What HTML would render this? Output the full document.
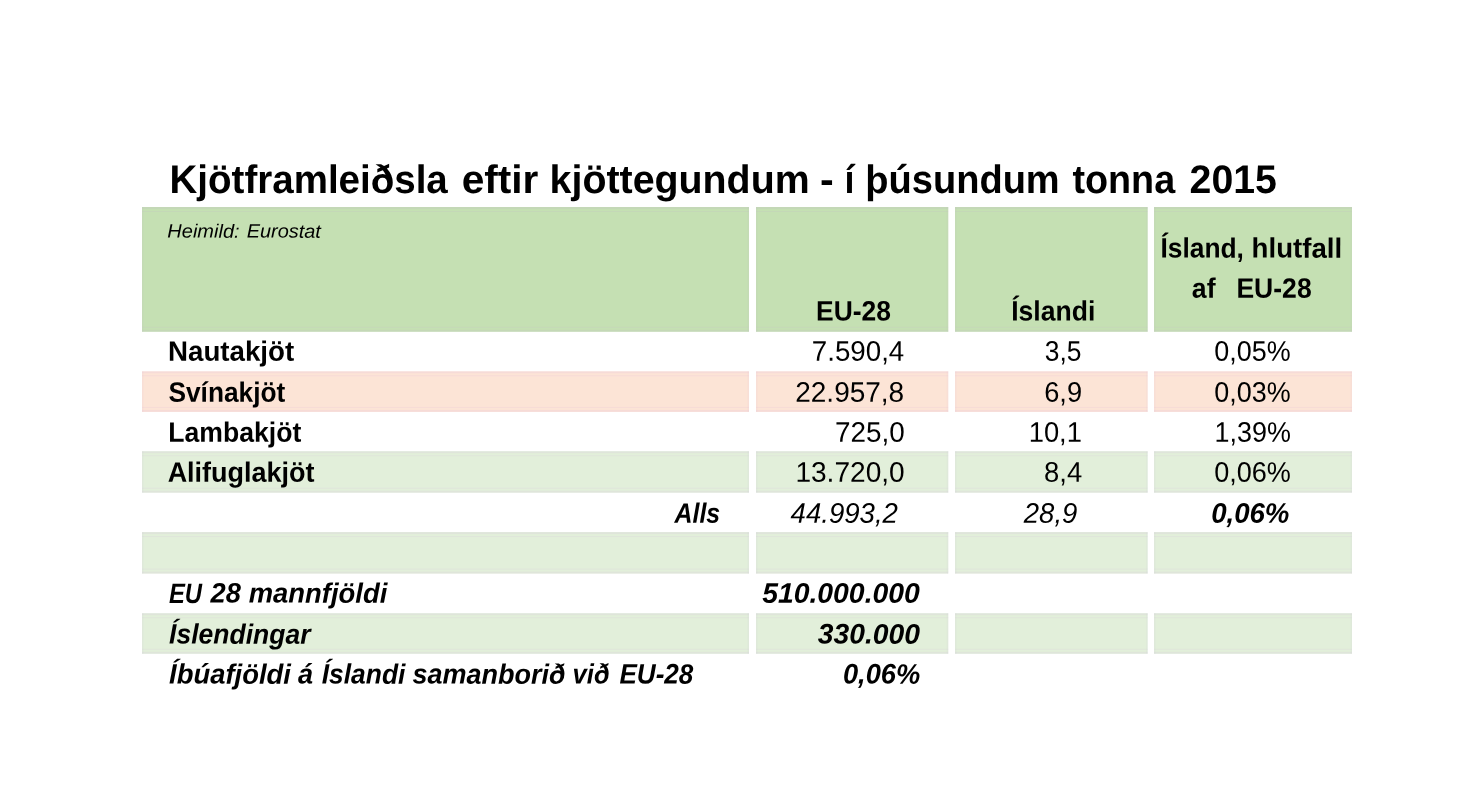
<!DOCTYPE html>
<html lang="is">
<head>
<meta charset="utf-8">
<title>Kjötframleiðsla eftir kjöttegundum</title>
<style>
html,body{margin:0;padding:0;background:#fff;}
body{width:1472px;height:803px;overflow:hidden;font-family:"Liberation Sans",sans-serif;}
svg{display:block;will-change:transform;}
text{font-family:"Liberation Sans",sans-serif;fill:#000;}
.b{font-weight:bold;}
.i{font-style:italic;}
</style>
</head>
<body>
<svg width="1472" height="803" viewBox="0 0 1472 803">
<rect x="0" y="0" width="1472" height="803" fill="#ffffff"/>
<g shape-rendering="geometricPrecision">
<rect x="142" y="207" width="607" height="124.8" fill="#c5e0b3"/>
<rect x="756" y="207" width="192.3" height="124.8" fill="#c5e0b3"/>
<rect x="955" y="207" width="192.7" height="124.8" fill="#c5e0b3"/>
<rect x="1154" y="207" width="198" height="124.8" fill="#c5e0b3"/>
<rect x="142" y="371.3" width="607" height="40.6" fill="#fce4d6"/>
<rect x="756" y="371.3" width="192.3" height="40.6" fill="#fce4d6"/>
<rect x="955" y="371.3" width="192.7" height="40.6" fill="#fce4d6"/>
<rect x="1154" y="371.3" width="198" height="40.6" fill="#fce4d6"/>
<rect x="142" y="451.2" width="607" height="41.5" fill="#e2efda"/>
<rect x="756" y="451.2" width="192.3" height="41.5" fill="#e2efda"/>
<rect x="955" y="451.2" width="192.7" height="41.5" fill="#e2efda"/>
<rect x="1154" y="451.2" width="198" height="41.5" fill="#e2efda"/>
<rect x="142" y="532.1" width="607" height="41.5" fill="#e2efda"/>
<rect x="756" y="532.1" width="192.3" height="41.5" fill="#e2efda"/>
<rect x="955" y="532.1" width="192.7" height="41.5" fill="#e2efda"/>
<rect x="1154" y="532.1" width="198" height="41.5" fill="#e2efda"/>
<rect x="142" y="613.2" width="607" height="40.6" fill="#e2efda"/>
<rect x="756" y="613.2" width="192.3" height="40.6" fill="#e2efda"/>
<rect x="955" y="613.2" width="192.7" height="40.6" fill="#e2efda"/>
<rect x="1154" y="613.2" width="198" height="40.6" fill="#e2efda"/>
</g>
<g fill="#c396e1" fill-opacity="0.10">
<rect x="142" y="207" width="607" height="2"/>
<rect x="142" y="329.8" width="607" height="2"/>
<rect x="142" y="211" width="607" height="1"/>
<rect x="142" y="326.8" width="607" height="1"/>
<rect x="142" y="207" width="1.5" height="124.8" fill-opacity="0.06"/>
<rect x="747.5" y="207" width="1.5" height="124.8" fill-opacity="0.06"/>
<rect x="756" y="207" width="192.3" height="2"/>
<rect x="756" y="329.8" width="192.3" height="2"/>
<rect x="756" y="211" width="192.3" height="1"/>
<rect x="756" y="326.8" width="192.3" height="1"/>
<rect x="756" y="207" width="1.5" height="124.8" fill-opacity="0.06"/>
<rect x="946.8" y="207" width="1.5" height="124.8" fill-opacity="0.06"/>
<rect x="955" y="207" width="192.7" height="2"/>
<rect x="955" y="329.8" width="192.7" height="2"/>
<rect x="955" y="211" width="192.7" height="1"/>
<rect x="955" y="326.8" width="192.7" height="1"/>
<rect x="955" y="207" width="1.5" height="124.8" fill-opacity="0.06"/>
<rect x="1146.2" y="207" width="1.5" height="124.8" fill-opacity="0.06"/>
<rect x="1154" y="207" width="198" height="2"/>
<rect x="1154" y="329.8" width="198" height="2"/>
<rect x="1154" y="211" width="198" height="1"/>
<rect x="1154" y="326.8" width="198" height="1"/>
<rect x="1154" y="207" width="1.5" height="124.8" fill-opacity="0.06"/>
<rect x="1350.5" y="207" width="1.5" height="124.8" fill-opacity="0.06"/>
<rect x="142" y="371.3" width="607" height="2"/>
<rect x="142" y="409.9" width="607" height="2"/>
<rect x="142" y="375.3" width="607" height="1"/>
<rect x="142" y="406.9" width="607" height="1"/>
<rect x="142" y="371.3" width="1.5" height="40.6" fill-opacity="0.06"/>
<rect x="747.5" y="371.3" width="1.5" height="40.6" fill-opacity="0.06"/>
<rect x="756" y="371.3" width="192.3" height="2"/>
<rect x="756" y="409.9" width="192.3" height="2"/>
<rect x="756" y="375.3" width="192.3" height="1"/>
<rect x="756" y="406.9" width="192.3" height="1"/>
<rect x="756" y="371.3" width="1.5" height="40.6" fill-opacity="0.06"/>
<rect x="946.8" y="371.3" width="1.5" height="40.6" fill-opacity="0.06"/>
<rect x="955" y="371.3" width="192.7" height="2"/>
<rect x="955" y="409.9" width="192.7" height="2"/>
<rect x="955" y="375.3" width="192.7" height="1"/>
<rect x="955" y="406.9" width="192.7" height="1"/>
<rect x="955" y="371.3" width="1.5" height="40.6" fill-opacity="0.06"/>
<rect x="1146.2" y="371.3" width="1.5" height="40.6" fill-opacity="0.06"/>
<rect x="1154" y="371.3" width="198" height="2"/>
<rect x="1154" y="409.9" width="198" height="2"/>
<rect x="1154" y="375.3" width="198" height="1"/>
<rect x="1154" y="406.9" width="198" height="1"/>
<rect x="1154" y="371.3" width="1.5" height="40.6" fill-opacity="0.06"/>
<rect x="1350.5" y="371.3" width="1.5" height="40.6" fill-opacity="0.06"/>
<rect x="142" y="451.2" width="607" height="2"/>
<rect x="142" y="490.7" width="607" height="2"/>
<rect x="142" y="455.2" width="607" height="1"/>
<rect x="142" y="487.7" width="607" height="1"/>
<rect x="142" y="451.2" width="1.5" height="41.5" fill-opacity="0.06"/>
<rect x="747.5" y="451.2" width="1.5" height="41.5" fill-opacity="0.06"/>
<rect x="756" y="451.2" width="192.3" height="2"/>
<rect x="756" y="490.7" width="192.3" height="2"/>
<rect x="756" y="455.2" width="192.3" height="1"/>
<rect x="756" y="487.7" width="192.3" height="1"/>
<rect x="756" y="451.2" width="1.5" height="41.5" fill-opacity="0.06"/>
<rect x="946.8" y="451.2" width="1.5" height="41.5" fill-opacity="0.06"/>
<rect x="955" y="451.2" width="192.7" height="2"/>
<rect x="955" y="490.7" width="192.7" height="2"/>
<rect x="955" y="455.2" width="192.7" height="1"/>
<rect x="955" y="487.7" width="192.7" height="1"/>
<rect x="955" y="451.2" width="1.5" height="41.5" fill-opacity="0.06"/>
<rect x="1146.2" y="451.2" width="1.5" height="41.5" fill-opacity="0.06"/>
<rect x="1154" y="451.2" width="198" height="2"/>
<rect x="1154" y="490.7" width="198" height="2"/>
<rect x="1154" y="455.2" width="198" height="1"/>
<rect x="1154" y="487.7" width="198" height="1"/>
<rect x="1154" y="451.2" width="1.5" height="41.5" fill-opacity="0.06"/>
<rect x="1350.5" y="451.2" width="1.5" height="41.5" fill-opacity="0.06"/>
<rect x="142" y="532.1" width="607" height="2"/>
<rect x="142" y="571.6" width="607" height="2"/>
<rect x="142" y="536.1" width="607" height="1"/>
<rect x="142" y="568.6" width="607" height="1"/>
<rect x="142" y="532.1" width="1.5" height="41.5" fill-opacity="0.06"/>
<rect x="747.5" y="532.1" width="1.5" height="41.5" fill-opacity="0.06"/>
<rect x="756" y="532.1" width="192.3" height="2"/>
<rect x="756" y="571.6" width="192.3" height="2"/>
<rect x="756" y="536.1" width="192.3" height="1"/>
<rect x="756" y="568.6" width="192.3" height="1"/>
<rect x="756" y="532.1" width="1.5" height="41.5" fill-opacity="0.06"/>
<rect x="946.8" y="532.1" width="1.5" height="41.5" fill-opacity="0.06"/>
<rect x="955" y="532.1" width="192.7" height="2"/>
<rect x="955" y="571.6" width="192.7" height="2"/>
<rect x="955" y="536.1" width="192.7" height="1"/>
<rect x="955" y="568.6" width="192.7" height="1"/>
<rect x="955" y="532.1" width="1.5" height="41.5" fill-opacity="0.06"/>
<rect x="1146.2" y="532.1" width="1.5" height="41.5" fill-opacity="0.06"/>
<rect x="1154" y="532.1" width="198" height="2"/>
<rect x="1154" y="571.6" width="198" height="2"/>
<rect x="1154" y="536.1" width="198" height="1"/>
<rect x="1154" y="568.6" width="198" height="1"/>
<rect x="1154" y="532.1" width="1.5" height="41.5" fill-opacity="0.06"/>
<rect x="1350.5" y="532.1" width="1.5" height="41.5" fill-opacity="0.06"/>
<rect x="142" y="613.2" width="607" height="2"/>
<rect x="142" y="651.8" width="607" height="2"/>
<rect x="142" y="617.2" width="607" height="1"/>
<rect x="142" y="648.8" width="607" height="1"/>
<rect x="142" y="613.2" width="1.5" height="40.6" fill-opacity="0.06"/>
<rect x="747.5" y="613.2" width="1.5" height="40.6" fill-opacity="0.06"/>
<rect x="756" y="613.2" width="192.3" height="2"/>
<rect x="756" y="651.8" width="192.3" height="2"/>
<rect x="756" y="617.2" width="192.3" height="1"/>
<rect x="756" y="648.8" width="192.3" height="1"/>
<rect x="756" y="613.2" width="1.5" height="40.6" fill-opacity="0.06"/>
<rect x="946.8" y="613.2" width="1.5" height="40.6" fill-opacity="0.06"/>
<rect x="955" y="613.2" width="192.7" height="2"/>
<rect x="955" y="651.8" width="192.7" height="2"/>
<rect x="955" y="617.2" width="192.7" height="1"/>
<rect x="955" y="648.8" width="192.7" height="1"/>
<rect x="955" y="613.2" width="1.5" height="40.6" fill-opacity="0.06"/>
<rect x="1146.2" y="613.2" width="1.5" height="40.6" fill-opacity="0.06"/>
<rect x="1154" y="613.2" width="198" height="2"/>
<rect x="1154" y="651.8" width="198" height="2"/>
<rect x="1154" y="617.2" width="198" height="1"/>
<rect x="1154" y="648.8" width="198" height="1"/>
<rect x="1154" y="613.2" width="1.5" height="40.6" fill-opacity="0.06"/>
<rect x="1350.5" y="613.2" width="1.5" height="40.6" fill-opacity="0.06"/>
</g>
<g>
<text class="b" transform="translate(169.55 192.90) rotate(0.03) scale(0.9665 1)" font-size="39.86">Kjötframleiðsla</text>
<text class="b" transform="translate(461.63 192.90) rotate(0.03) scale(1.0187 1)" font-size="39.86">eftir</text>
<text class="b" transform="translate(549.60 192.90) rotate(0.03) scale(0.9874 1)" font-size="39.86">kjöttegundum</text>
<text class="b" transform="translate(819.90 192.90) rotate(0.03) scale(1.0337 1)" font-size="39.86">-</text>
<text class="b" transform="translate(844.50 192.90) rotate(0.03) scale(0.8991 1)" font-size="39.86">í</text>
<text class="b" transform="translate(865.29 192.90) rotate(0.03) scale(0.9548 1)" font-size="39.86">þúsundum</text>
<text class="b" transform="translate(1072.47 192.90) rotate(0.03) scale(0.9464 1)" font-size="39.86">tonna</text>
<text class="b" transform="translate(1189.57 192.90) rotate(0.03) scale(0.9840 1)" font-size="39.86">2015</text>
<text class="i" transform="translate(167.35 237.60) rotate(0.03) scale(1.0455 1)" font-size="19.13">Heimild:</text>
<text class="i" transform="translate(246.75 237.60) rotate(0.03) scale(1.0413 1)" font-size="19.13">Eurostat</text>
<text class="b" transform="translate(816.10 320.40) rotate(0.03) scale(0.9406 1)" font-size="28.12">EU-28</text>
<text class="b" transform="translate(1011.22 320.40) rotate(0.03) scale(0.9446 1)" font-size="28.12">Íslandi</text>
<text class="b" transform="translate(1160.43 257.60) rotate(0.03) scale(0.9376 1)" font-size="28.12">Ísland,</text>
<text class="b" transform="translate(1251.62 257.60) rotate(0.03) scale(0.9821 1)" font-size="28.12">hlutfall</text>
<text class="b" transform="translate(1191.85 297.70) rotate(0.03) scale(0.9471 1)" font-size="28.12">af</text>
<text class="b" transform="translate(1236.39 297.70) rotate(0.03) scale(0.9445 1)" font-size="28.12">EU-28</text>
<text class="b" transform="translate(168.01 360.70) rotate(0.03) scale(0.9851 1)" font-size="28.12">Nautakjöt</text>
<text class="b" transform="translate(168.46 401.70) rotate(0.03) scale(0.9353 1)" font-size="28.12">Svínakjöt</text>
<text class="b" transform="translate(168.29 441.70) rotate(0.03) scale(0.9463 1)" font-size="28.12">Lambakjöt</text>
<text class="b" transform="translate(167.64 481.80) rotate(0.03) scale(0.9597 1)" font-size="28.12">Alifuglakjöt</text>
<text class="b i" transform="translate(674.50 522.70) rotate(0.03) scale(0.8862 1)" font-size="28.12">Alls</text>
<text transform="translate(811.87 360.70) rotate(0.03) scale(0.9787 1)" font-size="28.29">7.590,4</text>
<text transform="translate(795.25 401.70) rotate(0.03) scale(0.9899 1)" font-size="28.29">22.957,8</text>
<text transform="translate(834.96 441.70) rotate(0.03) scale(0.9851 1)" font-size="28.29">725,0</text>
<text transform="translate(795.40 481.80) rotate(0.03) scale(0.9926 1)" font-size="28.29">13.720,0</text>
<text class="i" transform="translate(790.57 522.70) rotate(0.03) scale(0.9756 1)" font-size="28.29">44.993,2</text>
<text transform="translate(1044.80 360.70) rotate(0.03) scale(0.9324 1)" font-size="28.29">3,5</text>
<text transform="translate(1044.19 401.70) rotate(0.03) scale(0.9619 1)" font-size="28.29">6,9</text>
<text transform="translate(1028.71 441.70) rotate(0.03) scale(0.9664 1)" font-size="28.29">10,1</text>
<text transform="translate(1044.05 481.80) rotate(0.03) scale(0.9695 1)" font-size="28.29">8,4</text>
<text class="i" transform="translate(1023.85 522.70) rotate(0.03) scale(0.9708 1)" font-size="28.29">28,9</text>
<text transform="translate(1214.37 360.70) rotate(0.03) scale(0.9517 1)" font-size="28.29">0,05%</text>
<text transform="translate(1214.37 401.70) rotate(0.03) scale(0.9517 1)" font-size="28.29">0,03%</text>
<text transform="translate(1214.60 441.70) rotate(0.03) scale(0.9514 1)" font-size="28.29">1,39%</text>
<text transform="translate(1214.17 481.80) rotate(0.03) scale(0.9569 1)" font-size="28.29">0,06%</text>
<text class="b i" transform="translate(1211.15 522.70) rotate(0.03) scale(0.9764 1)" font-size="28.29">0,06%</text>
<text class="b i" transform="translate(168.97 602.60) rotate(0.03) scale(0.8470 1)" font-size="28.12">EU</text>
<text class="b i" transform="translate(210.62 602.60) rotate(0.03) scale(0.9686 1)" font-size="28.12">28</text>
<text class="b i" transform="translate(248.70 602.60) rotate(0.03) scale(0.9755 1)" font-size="28.12">mannfjöldi</text>
<text class="b i" transform="translate(169.12 643.60) rotate(0.03) scale(0.9429 1)" font-size="28.12">Íslendingar</text>
<text class="b i" transform="translate(169.10 683.60) rotate(0.03) scale(0.9749 1)" font-size="28.12">Íbúafjöldi</text>
<text class="b i" transform="translate(297.98 683.60) rotate(0.03) scale(0.9644 1)" font-size="28.12">á</text>
<text class="b i" transform="translate(321.72 683.60) rotate(0.03) scale(0.9398 1)" font-size="28.12">Íslandi</text>
<text class="b i" transform="translate(412.48 683.60) rotate(0.03) scale(0.9601 1)" font-size="28.12">samanborið</text>
<text class="b i" transform="translate(572.57 683.60) rotate(0.03) scale(0.9101 1)" font-size="28.12">við</text>
<text class="b i" transform="translate(619.43 683.60) rotate(0.03) scale(0.9278 1)" font-size="28.12">EU-28</text>
<text class="b i" transform="translate(762.17 602.70) rotate(0.03) scale(1.0025 1)" font-size="28.29">510.000.000</text>
<text class="b i" transform="translate(817.87 643.60) rotate(0.03) scale(0.9986 1)" font-size="28.29">330.000</text>
<text class="b i" transform="translate(842.91 683.60) rotate(0.03) scale(0.9642 1)" font-size="28.29">0,06%</text>
</g>
</svg>
</body>
</html>
